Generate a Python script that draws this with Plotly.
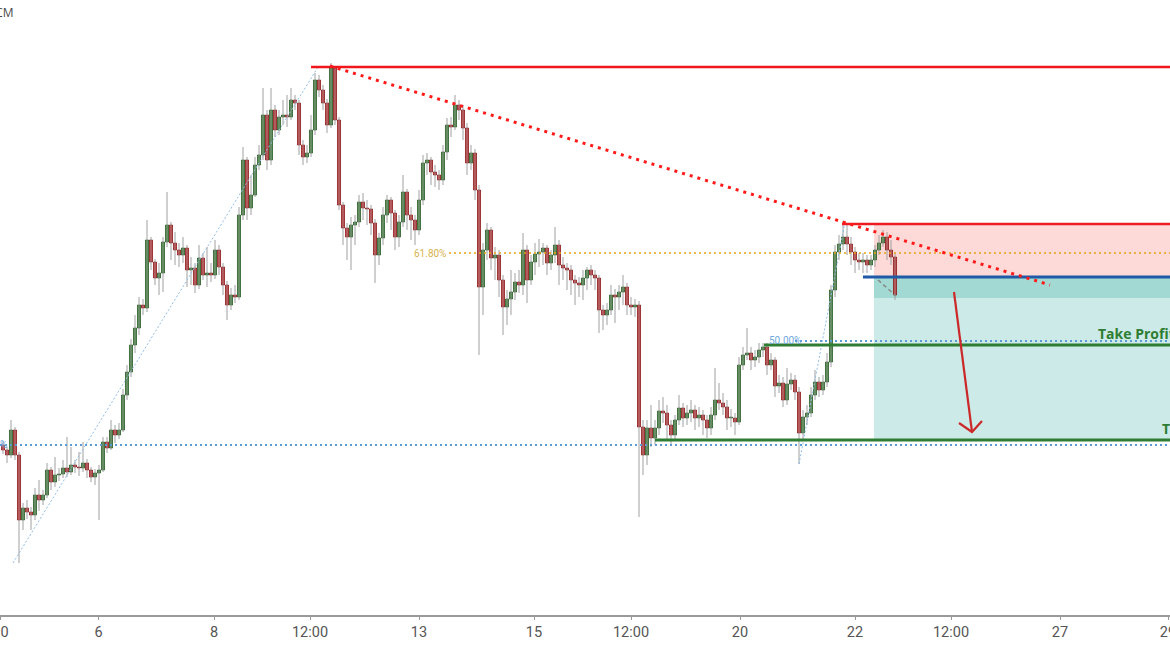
import plotly.graph_objects as go

# ---------------- data (price units, candle index on x) ----------------
open_ = [170,165,160,185,160,95,107,103,100,120,
         115,120,145,133,140,141,147,143,150,148,
         147,152,145,138,142,145,173,167,185,180,
         185,220,243,270,287,310,307,375,353,337,
         342,373,390,372,365,360,367,345,347,330,
         357,340,342,340,365,348,330,310,320,318,
         400,455,407,420,450,460,500,455,505,485,
         498,500,498,515,512,470,458,462,485,535,
         525,512,490,547,495,410,387,378,390,393,
         413,407,406,392,360,377,400,415,402,378,
         393,423,400,395,385,415,452,455,443,440,
         435,463,490,488,510,505,487,452,462,425,
         328,365,385,357,360,335,308,316,323,333,
         330,365,335,353,361,363,367,352,360,370,
         350,347,345,335,332,330,337,345,340,337,
         305,300,305,320,318,323,328,310,308,310,
         188,160,187,177,187,204,202,190,180,195,
         207,197,202,205,197,200,195,187,200,215,
         212,208,197,197,193,250,260,262,255,258,
         265,268,250,255,229,232,215,231,235,223,
         182,198,202,220,233,225,233,253,325,363,
         371,378,371,363,355,353,355,350,355,365,
         372,378,365,358]

close = [165,160,185,160,95,107,103,100,120,115,
         120,145,133,140,141,147,143,150,148,147,
         152,145,138,142,145,173,167,185,180,185,
         220,243,270,287,310,307,375,353,337,342,
         373,390,372,365,360,367,345,347,330,357,
         340,342,340,365,348,330,310,320,318,400,
         455,407,420,450,460,500,455,505,485,498,
         500,498,515,512,470,458,462,485,535,525,
         512,490,547,495,410,387,378,390,393,413,
         407,406,392,360,377,400,415,402,378,393,
         423,400,395,385,415,452,455,443,440,435,
         463,490,488,510,505,487,452,462,425,328,
         365,385,357,360,335,308,316,323,333,330,
         365,335,353,361,363,367,352,360,370,350,
         347,345,335,332,330,337,345,340,337,305,
         300,305,320,318,323,328,310,308,310,188,
         160,187,177,187,204,202,190,180,195,207,
         197,202,205,197,200,195,187,200,215,212,
         208,197,197,193,250,260,262,255,258,265,
         268,250,255,229,232,215,231,235,223,182,
         198,202,220,233,225,233,253,325,363,371,
         378,371,363,355,353,355,350,355,365,372,
         378,365,358,320]

high = [174,168,195,188,163,112,115,108,127,135,
        125,152,148,158,147,155,178,168,155,163,
        173,156,148,146,150,178,178,195,190,192,
        226,250,276,300,318,316,395,378,356,352,
        378,423,393,383,372,378,370,358,352,370,
        362,368,352,375,370,352,334,327,330,408,
        468,458,440,458,470,527,505,527,510,505,
        515,520,527,520,515,475,470,500,542,540,
        530,516,552,549,498,413,392,398,400,420,
        422,415,410,396,382,408,420,418,405,400,
        440,426,408,400,425,460,462,458,450,445,
        470,497,498,520,515,510,492,470,466,430,
        372,392,388,368,365,340,325,345,342,345,
        382,370,360,372,376,372,370,365,388,375,
        358,352,350,340,338,345,348,350,345,340,
        310,312,330,326,330,340,332,318,316,314,
        195,195,210,195,215,218,210,195,200,220,
        212,210,215,210,208,205,200,208,247,232,
        222,215,206,202,258,268,287,268,265,272,
        272,272,262,258,240,238,247,242,240,228,
        205,210,228,245,238,240,262,330,370,380,
        394,390,378,368,362,362,360,360,370,380,
        385,383,375,362]

low = [161,152,157,155,52,85,96,85,95,104,
       110,117,125,128,134,137,138,140,142,139,
       143,137,133,130,95,143,162,165,172,176,
       183,215,238,262,280,300,303,345,330,320,
       323,368,355,350,348,352,328,330,322,326,
       335,328,333,336,340,320,295,305,312,315,
       395,395,400,418,445,455,445,450,478,480,
       490,488,495,505,460,450,452,458,480,518,
       505,482,487,490,405,370,355,345,370,388,
       395,390,380,332,350,370,392,385,365,368,
       388,385,375,370,380,410,440,430,428,425,
       430,455,478,485,495,475,440,445,415,260,
       300,355,345,335,318,280,290,300,315,322,
       320,312,330,340,348,350,340,345,352,330,
       335,325,320,310,318,315,325,330,325,282,
       285,290,300,292,305,310,300,300,298,98,
       140,150,168,170,180,192,176,170,175,190,
       188,190,193,185,188,180,177,180,195,205,
       200,185,188,180,190,245,255,245,248,252,
       258,240,245,218,222,208,210,225,215,151,
       175,190,198,215,218,220,228,248,318,355,
       365,360,350,342,345,342,342,345,348,360,
       368,355,350,315]

tick_pos = [-0.6, 23.9, 52.75, 76.75, 104, 132.75, 157, 184.25, 213, 237, 264.25, 291.25]
tick_text = ["30", "6", "8", "12:00", "13", "15", "12:00", "20", "22", "12:00", "27", "29"]

# key levels (price units)
RESIST = 548
STOP = 391
ENTRY = 338
FILLED = 317
TP1 = 270
TP2 = 175
FIB618 = 362
FIB50 = 274
FIB_LOW = 170

X_MIN, X_MAX = -0.75, 291.75
Y_MIN, Y_MAX = 0, 615

# ---------------- figure ----------------
n = len(close)
idx = list(range(n))

wx, wy = [], []
for i in idx:
    wx += [i, i, None]
    wy += [low[i], high[i], None]

up = [c >= o for o, c in zip(open_, close)]
base = [min(o, c) for o, c in zip(open_, close)]
body = [max(abs(c - o), 0.9) for o, c in zip(open_, close)]
fill = ["#2f7a2a" if u else "#c8171c" for u in up]
edge = ["#1f521c" if u else "#7e1212" for u in up]

fig = go.Figure()
fig.add_trace(go.Scatter(x=wx, y=wy, mode="lines",
                         line=dict(color="#a0a0a0", width=1),
                         hoverinfo="skip", showlegend=False))
fig.add_trace(go.Bar(x=idx, y=body, base=base, width=0.76,
                     marker=dict(color=fill, line=dict(color=edge, width=0.7)),
                     hoverinfo="skip", showlegend=False))

shapes = []
# zones
shapes.append(dict(type="rect", x0=217.75, x1=X_MAX, y0=ENTRY, y1=STOP, layer="below",
                   fillcolor="rgba(244,67,54,0.2)", line=dict(width=0)))
shapes.append(dict(type="rect", x0=217.75, x1=X_MAX, y0=TP2, y1=ENTRY, layer="below",
                   fillcolor="rgba(0,150,136,0.2)", line=dict(width=0)))
shapes.append(dict(type="rect", x0=217.75, x1=X_MAX, y0=FILLED, y1=ENTRY, layer="below",
                   fillcolor="rgba(0,150,136,0.2)", line=dict(width=0)))
# fib dotted levels
shapes.append(dict(type="line", x0=X_MIN, x1=X_MAX, y0=FIB_LOW, y1=FIB_LOW,
                   line=dict(color="#5b9bd5", width=2, dash="2px,3px")))
shapes.append(dict(type="line", x0=111.5, x1=X_MAX, y0=FIB618, y1=FIB618,
                   line=dict(color="#e8a412", width=1.5, dash="2px,3px")))
shapes.append(dict(type="line", x0=198, x1=X_MAX, y0=FIB50, y1=FIB50,
                   line=dict(color="#5b9bd5", width=2, dash="2px,3px")))
# fib diagonals
shapes.append(dict(type="line", x0=2.5, y0=52, x1=78.75, y1=548,
                   line=dict(color="#90bde8", width=1, dash="2px,2px")))
shapes.append(dict(type="line", x0=199, y0=151, x1=210.5, y1=393,
                   line=dict(color="#90bde8", width=1, dash="2px,2px")))
# levels
shapes.append(dict(type="line", x0=77, x1=X_MAX, y0=RESIST, y1=RESIST,
                   line=dict(color="#f0161b", width=2.5)))
shapes.append(dict(type="line", x0=209.75, x1=X_MAX, y0=STOP, y1=STOP,
                   line=dict(color="#ee1c22", width=2.5)))
shapes.append(dict(type="line", x0=215, x1=X_MAX, y0=ENTRY, y1=ENTRY,
                   line=dict(color="#1e5aa6", width=3)))
shapes.append(dict(type="line", x0=190.25, x1=X_MAX, y0=TP1, y1=TP1,
                   line=dict(color="#2e7d32", width=3)))
shapes.append(dict(type="line", x0=163, x1=X_MAX, y0=TP2, y1=TP2,
                   line=dict(color="#2e7d32", width=3)))
# trend line
shapes.append(dict(type="line", x0=81.75, y0=549, x1=261.75, y1=330,
                   line=dict(color="#ff1a1a", width=3, dash="3px,5px")))
# small gray dashed
shapes.append(dict(type="line", x0=218.75, y0=335, x1=223.25, y1=319,
                   line=dict(color="#888888", width=1.5, dash="4px,3px")))
# red arrow
shapes.append(dict(type="line", x0=237.75, y0=323, x1=242.25, y1=183,
                   line=dict(color="#cc2a2a", width=2.2)))
shapes.append(dict(type="path", path="M 239,192 L 242.25,183 L 244.75,194",
                   line=dict(color="#cc2a2a", width=2.2)))

annotations = [
    dict(text="61.80%", x=111.25, y=FIB618, xanchor="right", yanchor="middle",
         showarrow=False, font=dict(size=10, color="#d9b24f", family="Roboto")),
    dict(text="50.00%", x=191, y=FIB50 + 1, xanchor="left", yanchor="middle",
         showarrow=False, font=dict(size=10, color="#6fa8dc", family="Roboto")),
    dict(text="50.00%", x=1.5, y=FIB_LOW + 1, xanchor="right", yanchor="middle",
         showarrow=False, font=dict(size=10, color="#6fa8dc", family="Roboto")),
    dict(text="<b>Take Profit 1</b>", x=273.25, y=282, xanchor="left", yanchor="middle",
         showarrow=False, font=dict(size=14, color="#2e7d32", family="Open Sans")),
    dict(text="<b>Take Profit 2</b>", x=289.25, y=187, xanchor="left", yanchor="middle",
         showarrow=False, font=dict(size=14, color="#2e7d32", family="Open Sans")),
    dict(text="FXCM", x=15 / 1170, y=(615 - 13) / 615, xref="paper", yref="paper",
         xanchor="right", yanchor="middle", showarrow=False,
         font=dict(size=12, color="#4a4a4a", family="Open Sans")),
]

fig.update_layout(
    width=1170, height=650,
    margin=dict(l=0, r=0, t=0, b=35, autoexpand=False),
    paper_bgcolor="white", plot_bgcolor="white",
    showlegend=False, shapes=shapes, annotations=annotations,
    xaxis=dict(range=[X_MIN, X_MAX], showgrid=False, zeroline=False,
               showline=True, linecolor="#9a9a9a", linewidth=1.5,
               ticks="outside", ticklen=3, tickcolor="#9a9a9a",
               tickmode="array", tickvals=tick_pos, ticktext=tick_text,
               ticklabeloverflow="allow", automargin=False,
               tickfont=dict(size=14.5, color="#555555", family="Roboto"),
               fixedrange=True),
    yaxis=dict(range=[Y_MIN, Y_MAX], visible=False, fixedrange=True, automargin=False),
)

fig.write_html("out.html",
               config={"displayModeBar": False, "staticPlot": True},
               post_script="document.body.style.margin='0';document.body.style.overflow='hidden';")
